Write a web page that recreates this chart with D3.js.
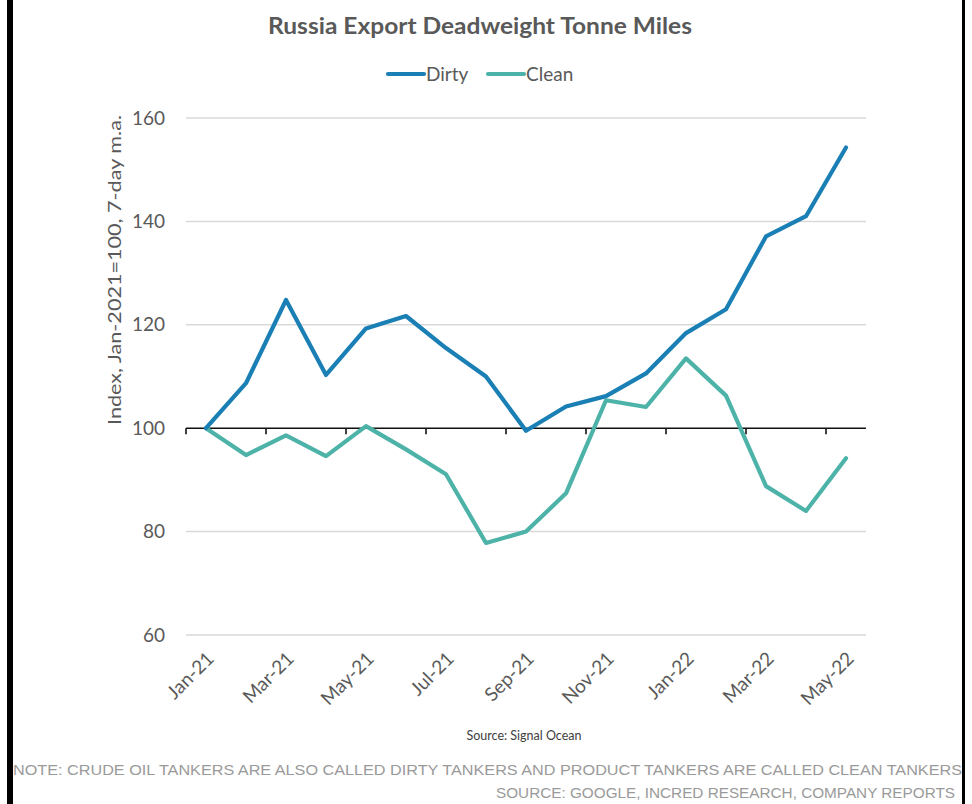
<!DOCTYPE html>
<html>
<head>
<meta charset="utf-8">
<script src="https://cdn.jsdelivr.net/npm/d3@7"></script>
<style>
  html, body { margin: 0; padding: 0; background: #fff; }
  svg { display: block; }
</style>
</head>
<body>
<svg id="chart" width="972" height="804"></svg>
<script>
// Monthly categories, Jan-2021 to May-2022
const months = ["Jan-21","Feb-21","Mar-21","Apr-21","May-21","Jun-21","Jul-21","Aug-21",
                "Sep-21","Oct-21","Nov-21","Dec-21","Jan-22","Feb-22","Mar-22","Apr-22","May-22"];
// Index, Jan-2021 = 100
const dirty = [100, 108.7, 124.8, 110.3, 119.3, 121.7, 115.5, 110.0, 99.5, 104.2, 106.2, 110.6,
               118.4, 123.0, 137.1, 141.0, 154.3];
const clean = [100, 94.8, 98.6, 94.6, 100.4, 95.9, 91.1, 77.8, 80.0, 87.4, 105.4, 104.1,
               113.5, 106.3, 88.8, 84.0, 94.2];
const yTicks = [60, 80, 100, 120, 140, 160];

const svg = d3.select("#chart");
const font = "Lato, 'Open Sans', sans-serif";

// page frame bars
svg.append("rect").attr("x", 7).attr("y", 0).attr("width", 6).attr("height", 804).attr("fill", "#000");
svg.append("rect").attr("x", 962).attr("y", 0).attr("width", 3).attr("height", 804).attr("fill", "#000");

const x = d3.scaleBand().domain(months).range([186, 866]).padding(0);
const y = d3.scaleLinear().domain([60, 160]).range([635, 118]);

// gridlines
svg.append("g").selectAll("line").data(yTicks.filter(v => v !== 100)).join("line")
  .attr("x1", 186).attr("x2", 866)
  .attr("y1", d => y(d)).attr("y2", d => y(d))
  .attr("stroke", "#d9d9d9").attr("stroke-width", 1.5);

// y tick labels
svg.append("g").selectAll("text").data(yTicks).join("text")
  .attr("x", 165).attr("y", d => y(d)).attr("dy", "0.35em")
  .attr("text-anchor", "end")
  .attr("font-family", font).attr("font-size", 19).attr("fill", "#595959")
  .text(d => d);

// y axis title
svg.append("text")
  .attr("transform", "translate(121,270) rotate(-90)")
  .attr("text-anchor", "middle")
  .attr("font-family", font).attr("font-size", 18).attr("fill", "#595959")
  .attr("textLength", 310).attr("lengthAdjust", "spacingAndGlyphs")
  .text("Index, Jan-2021=100, 7-day m.a.");

// category axis at 100
const axisY = y(100);
svg.append("line").attr("x1", 186).attr("x2", 866).attr("y1", axisY).attr("y2", axisY)
  .attr("stroke", "#111").attr("stroke-width", 1.6);
const tickIdx = months.map((m, i) => i).filter(i => i % 2 === 0);
svg.append("g").selectAll("line").data(tickIdx).join("line")
  .attr("x1", i => x(months[i])).attr("x2", i => x(months[i]))
  .attr("y1", axisY).attr("y2", axisY + 6)
  .attr("stroke", "#111").attr("stroke-width", 1.6);

// rotated month labels
svg.append("g").selectAll("text").data(tickIdx).join("text")
  .attr("transform", i => `translate(${x(months[i]) + x.bandwidth() / 2 + 9},${660}) rotate(-45)`)
  .attr("text-anchor", "end")
  .attr("font-family", font).attr("font-size", 19).attr("fill", "#595959")
  .text(i => months[i]);

// series lines
const line = d3.line()
  .x((d, i) => x(months[i]) + x.bandwidth() / 2)
  .y(d => y(d));
svg.append("path").datum(clean).attr("d", line)
  .attr("fill", "none").attr("stroke", "#4db3a8").attr("stroke-width", 4.2)
  .attr("stroke-linejoin", "round").attr("stroke-linecap", "round");
svg.append("path").datum(dirty).attr("d", line)
  .attr("fill", "none").attr("stroke", "#1a7fb4").attr("stroke-width", 4.2)
  .attr("stroke-linejoin", "round").attr("stroke-linecap", "round");

// title
svg.append("text").attr("x", 480).attr("y", 34).attr("text-anchor", "middle")
  .attr("font-family", font).attr("font-weight", "bold").attr("font-size", 23).attr("fill", "#595959")
  .attr("textLength", 424).attr("lengthAdjust", "spacingAndGlyphs")
  .text("Russia Export Deadweight Tonne Miles");

// legend
const legend = [
  { name: "Dirty", color: "#1a7fb4", x: 388 },
  { name: "Clean", color: "#4db3a8", x: 488 }
];
const lg = svg.append("g").selectAll("g").data(legend).join("g");
lg.append("line").attr("x1", d => d.x).attr("x2", d => d.x + 36).attr("y1", 74).attr("y2", 74)
  .attr("stroke", d => d.color).attr("stroke-width", 4.2).attr("stroke-linecap", "round");
lg.append("text").attr("x", d => d.x + 38).attr("y", 74).attr("dy", "0.35em")
  .attr("font-family", font).attr("font-size", 19).attr("fill", "#595959")
  .text(d => d.name);

// source line under the chart
svg.append("text").attr("x", 524).attr("y", 740).attr("text-anchor", "middle")
  .attr("font-family", font).attr("font-size", 12.5).attr("fill", "#404040")
  .text("Source: Signal Ocean");

// notes
svg.append("text").attr("x", 13).attr("y", 775)
  .attr("font-family", "'Liberation Sans', Arial, sans-serif").attr("font-size", 15.3).attr("fill", "#9a9a9a")
  .attr("textLength", 949).attr("lengthAdjust", "spacingAndGlyphs")
  .text("NOTE: CRUDE OIL TANKERS ARE ALSO CALLED DIRTY TANKERS AND PRODUCT TANKERS ARE CALLED CLEAN TANKERS");
svg.append("text").attr("x", 955).attr("y", 798).attr("text-anchor", "end")
  .attr("font-family", "'Liberation Sans', Arial, sans-serif").attr("font-size", 15.3).attr("fill", "#9a9a9a")
  .text("SOURCE: GOOGLE, INCRED RESEARCH, COMPANY REPORTS");
</script>
</body>
</html>
